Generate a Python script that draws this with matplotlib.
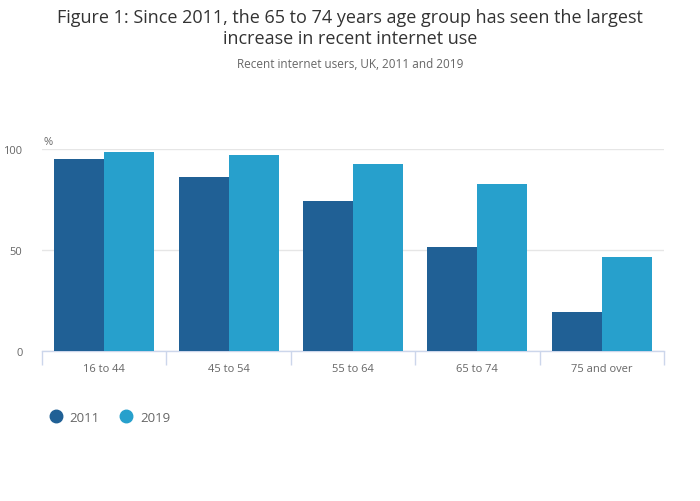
import matplotlib
matplotlib.use("Agg")
import matplotlib.pyplot as plt
from matplotlib.lines import Line2D
import numpy as np

categories = ["16 to 44", "45 to 54", "55 to 64", "65 to 74", "75 and over"]
series_names = ["2011", "2019"]
values_2011 = [95.0, 86.1, 74.3, 51.5, 19.3]
values_2019 = [98.5, 97.0, 92.6, 82.7, 46.5]
y_ticks = [0, 50, 100]

colors = ["#206095", "#27a0cc"]

plt.rcParams['font.family'] = ['Open Sans', 'DejaVu Sans']

fig = plt.figure(figsize=(7.0, 5.02), dpi=100)
W, H = 700, 502
ax = fig.add_axes([42 / W, 1 - 352 / H, (664 - 42) / W, (352 - 150) / H])

x = np.arange(len(categories))
bw = 0.402
ax.bar(x - bw / 2, values_2011, width=bw, color=colors[0], linewidth=0, zorder=3)
ax.bar(x + bw / 2, values_2019, width=bw, color=colors[1], linewidth=0, zorder=3)

ax.set_xlim(-0.5, len(categories) - 0.5)
ax.set_ylim(0, 100)
ax.set_yticks(y_ticks)
ax.set_yticklabels([str(v) for v in y_ticks], fontsize=8, color="#666666")
ax.yaxis.grid(True, color="#e6e6e6", linewidth=1, zorder=0)
ax.tick_params(axis="y", length=0, pad=14)

ax.set_xticks(x)
ax.set_xticklabels(categories, fontsize=8, color="#666666")
ax.tick_params(axis="x", length=0, pad=9)
ax.set_xticks(np.arange(len(categories) + 1) - 0.5, minor=True)
ax.tick_params(axis="x", which="minor", length=10, color="#ccd6eb", width=1)

for s in ["top", "right", "left"]:
    ax.spines[s].set_visible(False)
ax.spines["bottom"].set_color("#ccd6eb")
ax.spines["bottom"].set_linewidth(1)
ax.set_axisbelow(True)

fig.text(43 / W, 1 - 143 / H, "%", fontsize=8, color="#666666", ha="left", va="center")

fig.text(0.5, 1 - 18 / H, "Figure 1: Since 2011, the 65 to 74 years age group has seen the largest",
         fontsize=13, color="#333333", ha="center", va="center")
fig.text(0.5, 1 - 39 / H, "increase in recent internet use",
         fontsize=13, color="#333333", ha="center", va="center")
fig.text(0.5, 1 - 64 / H, "Recent internet users, UK, 2011 and 2019",
         fontsize=8.5, color="#666666", ha="center", va="center")

handles = [Line2D([0], [0], marker="o", linestyle="", markersize=9,
                  markerfacecolor=c, markeredgecolor=c) for c in colors]
fig.legend(handles, series_names, loc="center left", bbox_to_anchor=(36 / W, 1 - 418 / H),
           ncol=2, frameon=False, fontsize=9.5, labelcolor="#666666",
           handletextpad=0.45, columnspacing=1.4, handlelength=1.2)

fig.savefig("out.png", dpi=100)
